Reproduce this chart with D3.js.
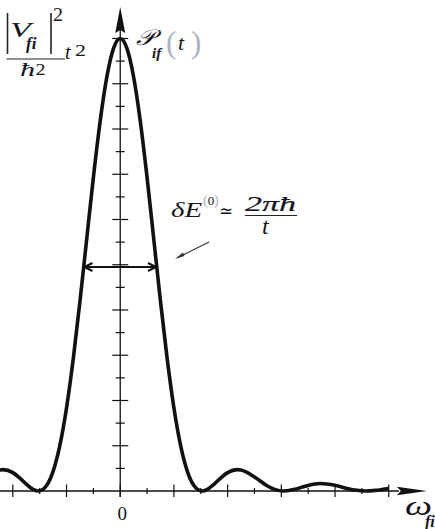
<!DOCTYPE html>
<html>
<head>
<meta charset="utf-8">
<script src="https://cdn.jsdelivr.net/npm/d3@7/dist/d3.min.js"></script>
<style>
  html, body { margin: 0; padding: 0; background: #fff; }
  svg { display: block; }
  text { font-family: "Liberation Serif", "DejaVu Serif", serif; fill: #141420; }
</style>
</head>
<body>
<svg id="chart" width="435" height="529"></svg>
<script>
// Transition probability P_if(t) against the frequency offset ω_fi
// (ω in tick units, P as a fraction of the central maximum |V_fi|² t² / ħ²)
const omega = [-4.5, -4.36, -4, -3.75, -3.5, -3.25, -3.05, -2.9, -2.75, -2.5, -2.25, -2, -1.75, -1.5,
  -1.25, -1, -0.75, -0.5, -0.25, 0, 0.25, 0.5, 0.75, 1, 1.25, 1.5, 1.75, 2, 2.25, 2.5, 2.75, 2.9,
  3.05, 3.25, 3.5, 3.75, 4, 4.36, 4.5, 5, 5.5, 5.75, 6.1, 6.5, 6.75, 7, 7.45, 8, 8.5, 8.75, 9.15,
  9.5, 9.75, 10];
const prob = [0.0463, 0.0472, 0.0406, 0.0292, 0.0154, 0.0037, 0, 0.0027, 0.0115, 0.0435, 0.1003,
  0.1836, 0.2916, 0.4187, 0.5562, 0.6928, 0.816, 0.9145, 0.978, 1, 0.978, 0.9145, 0.816, 0.6928,
  0.5562, 0.4187, 0.2916, 0.1836, 0.1003, 0.0435, 0.0115, 0.0027, 0, 0.0037, 0.0154, 0.0292, 0.0406,
  0.0472, 0.0463, 0.031, 0.0105, 0.0036, 0, 0.0036, 0.008, 0.0123, 0.0165, 0.0126, 0.005, 0.002,
  0, 0.0013, 0.0033, 0.0056];

// Axis ticks
const xTicks = [-4, -3, -2, -1, 0, 1, 2, 3, 4, 5, 6, 7, 8, 9, 10];
const xMajor = [-4, -2, 0, 2, 4, 6, 8, 10];
const yTicks = [0.05, 0.1, 0.15, 0.2, 0.25, 0.3, 0.35, 0.4, 0.45, 0.5, 0.55, 0.6, 0.65, 0.7,
  0.75, 0.8, 0.85, 0.9, 0.95, 1.0];
const yMajor = [0.1, 0.2, 0.3, 0.4, 0.5, 0.6, 0.7, 0.8, 0.9, 1.0];
const xTickLabels = [{ v: 0, t: "0" }];

// Width marker at half maximum
const halfLevel = 0.495;
const halfEnds = [-1.37, 1.37];

const svg = d3.select("#chart");
const x = d3.scaleLinear().domain([-4.5, 11.5]).range([-0.6, 429]);
const y = d3.scaleLinear().domain([0, 1]).range([491, 38.5]);

const ink = "#111";
const paren = "#a9b2c4";
const isMajorX = v => xMajor.includes(v);
const isMajorY = v => yMajor.some(m => Math.abs(m - v) < 1e-9);

// text helper: optional width stretch keeps the wide math-font look
function txt(g, s, px, py, size, opts = {}) {
  const t = g.append("text").attr("x", px).attr("y", py).attr("font-size", size).text(s);
  if (opts.italic) t.attr("font-style", "italic");
  if (opts.bold) t.attr("font-weight", "bold");
  if (opts.width) t.attr("textLength", opts.width).attr("lengthAdjust", "spacingAndGlyphs");
  if (opts.fill) t.style("fill", opts.fill);
  if (opts.anchor) t.attr("text-anchor", opts.anchor);
  return t;
}

// x axis line and arrow
const xEnd = x(11.42);
svg.append("line").attr("x1", 0).attr("x2", xEnd - 28).attr("y1", y(0)).attr("y2", y(0))
  .attr("stroke", ink).attr("stroke-width", 1.3);
svg.append("path")
  .attr("d", `M${xEnd},${y(0)} L${xEnd - 30},${y(0) - 4.2} L${xEnd - 26},${y(0)} L${xEnd - 30},${y(0) + 4.2} Z`)
  .attr("fill", ink);

// x ticks
svg.append("g").selectAll("line").data(xTicks).join("line")
  .attr("x1", d => x(d)).attr("x2", d => x(d))
  .attr("y1", d => y(0) - (isMajorX(d) ? 6.5 : 3))
  .attr("y2", d => y(0) + (isMajorX(d) ? 6 : 3))
  .attr("stroke", ink).attr("stroke-width", 1.2);

// y axis line and arrow
const yTop = 7;
svg.append("line").attr("x1", x(0)).attr("x2", x(0)).attr("y1", y(0) + 6).attr("y2", yTop + 22)
  .attr("stroke", ink).attr("stroke-width", 1.3);
svg.append("path")
  .attr("d", `M${x(0)},${yTop} L${x(0) + 5},${yTop + 26} L${x(0)},${yTop + 23} L${x(0) - 5},${yTop + 26} Z`)
  .attr("fill", ink);

// y ticks
svg.append("g").selectAll("line").data(yTicks).join("line")
  .attr("x1", d => x(0) - (isMajorY(d) ? 8 : 4.5))
  .attr("x2", d => x(0) + (isMajorY(d) ? 8 : 4.5))
  .attr("y1", d => y(d)).attr("y2", d => y(d))
  .attr("stroke", ink).attr("stroke-width", 1.2);

// the curve
const pts = omega.map((w, i) => [w, prob[i]]);
svg.append("path")
  .attr("d", d3.line().x(d => x(d[0])).y(d => y(d[1])).curve(d3.curveMonotoneX)(pts))
  .attr("fill", "none").attr("stroke", ink).attr("stroke-width", 3.6)
  .attr("stroke-linejoin", "round");

// double arrow across the half-maximum width
const hy = y(halfLevel), hx1 = x(halfEnds[0]), hx2 = x(halfEnds[1]);
svg.append("line").attr("x1", hx1 + 1).attr("x2", hx2 - 1).attr("y1", hy).attr("y2", hy)
  .attr("stroke", ink).attr("stroke-width", 2);
svg.append("path").attr("d", `M${hx1 + 9},${hy - 4} L${hx1 + 1},${hy} L${hx1 + 9},${hy + 4}`)
  .attr("fill", "none").attr("stroke", ink).attr("stroke-width", 2);
svg.append("path").attr("d", `M${hx2 - 9},${hy - 4} L${hx2 - 1},${hy} L${hx2 - 9},${hy + 4}`)
  .attr("fill", "none").attr("stroke", ink).attr("stroke-width", 2);

// pointer from the width formula to the arrow
svg.append("line").attr("x1", 209).attr("y1", 242).attr("x2", 178).attr("y2", 257.5)
  .attr("stroke", "#333").attr("stroke-width", 1.1);
svg.append("path").attr("d", "M175,259 L183,252.5 L184.5,256 Z").attr("fill", "#333");

// x tick label
svg.append("g").selectAll("text").data(xTickLabels).join("text")
  .attr("x", d => x(d.v) + 2).attr("y", 520).attr("text-anchor", "middle")
  .attr("font-size", 19).text(d => d.t);

// axis titles
txt(svg, "ω", 405, 515, 28, { italic: true, width: 27 });
txt(svg, "fi", 425, 527, 16, { italic: true, bold: true });

// P_if(t)
const pl = svg.append("g");
txt(pl, "𝒫", 136, 45, 22, { italic: true, width: 19 });
txt(pl, "if", 152, 58, 15, { italic: true, bold: true });
txt(pl, "(", 166, 53, 31, { fill: paren });
txt(pl, "t", 178, 50, 22, { italic: true });
txt(pl, ")", 191, 53, 31, { fill: paren });

// |V_fi|² t² / ħ²
const lab = svg.append("g");
lab.append("line").attr("x1", 7.5).attr("x2", 7.5).attr("y1", 13).attr("y2", 54).attr("stroke", "#222").attr("stroke-width", 1.6);
lab.append("line").attr("x1", 51).attr("x2", 51).attr("y1", 13).attr("y2", 54).attr("stroke", "#222").attr("stroke-width", 1.6);
txt(lab, "V", 10, 37, 21, { italic: true, width: 21 });
txt(lab, "fi", 26, 48.5, 17, { italic: true, bold: true });
txt(lab, "2", 53, 21, 18, { width: 10 });
lab.append("line").attr("x1", 6.5).attr("x2", 65).attr("y1", 59).attr("y2", 59).attr("stroke", "#222").attr("stroke-width", 1.1);
txt(lab, "ħ", 20, 76, 18, { italic: true, width: 15 });
txt(lab, "2", 35.5, 75, 16, { width: 10 });
txt(lab, "t", 65, 59, 20, { italic: true });
txt(lab, "2", 75, 56, 16, { width: 11 });

// δE⁽⁰⁾ ≃ 2πħ / t
const f = svg.append("g");
txt(f, "δE", 171, 217.3, 20, { italic: true, width: 31 });
txt(f, "(", 203, 205, 14, { fill: paren });
txt(f, "0", 207.8, 204.5, 13);
txt(f, ")", 214, 205, 14, { fill: paren });
txt(f, "≃", 219, 217, 18, { width: 14 });
txt(f, "2πħ", 245, 210.5, 22, { italic: true, width: 51 }).style("stroke", "#141420").style("stroke-width", 0.2);
f.append("line").attr("x1", 245).attr("x2", 297).attr("y1", 215.5).attr("y2", 215.5).attr("stroke", "#222").attr("stroke-width", 1.1);
txt(f, "t", 262, 234, 24, { italic: true });
</script>
</body>
</html>
